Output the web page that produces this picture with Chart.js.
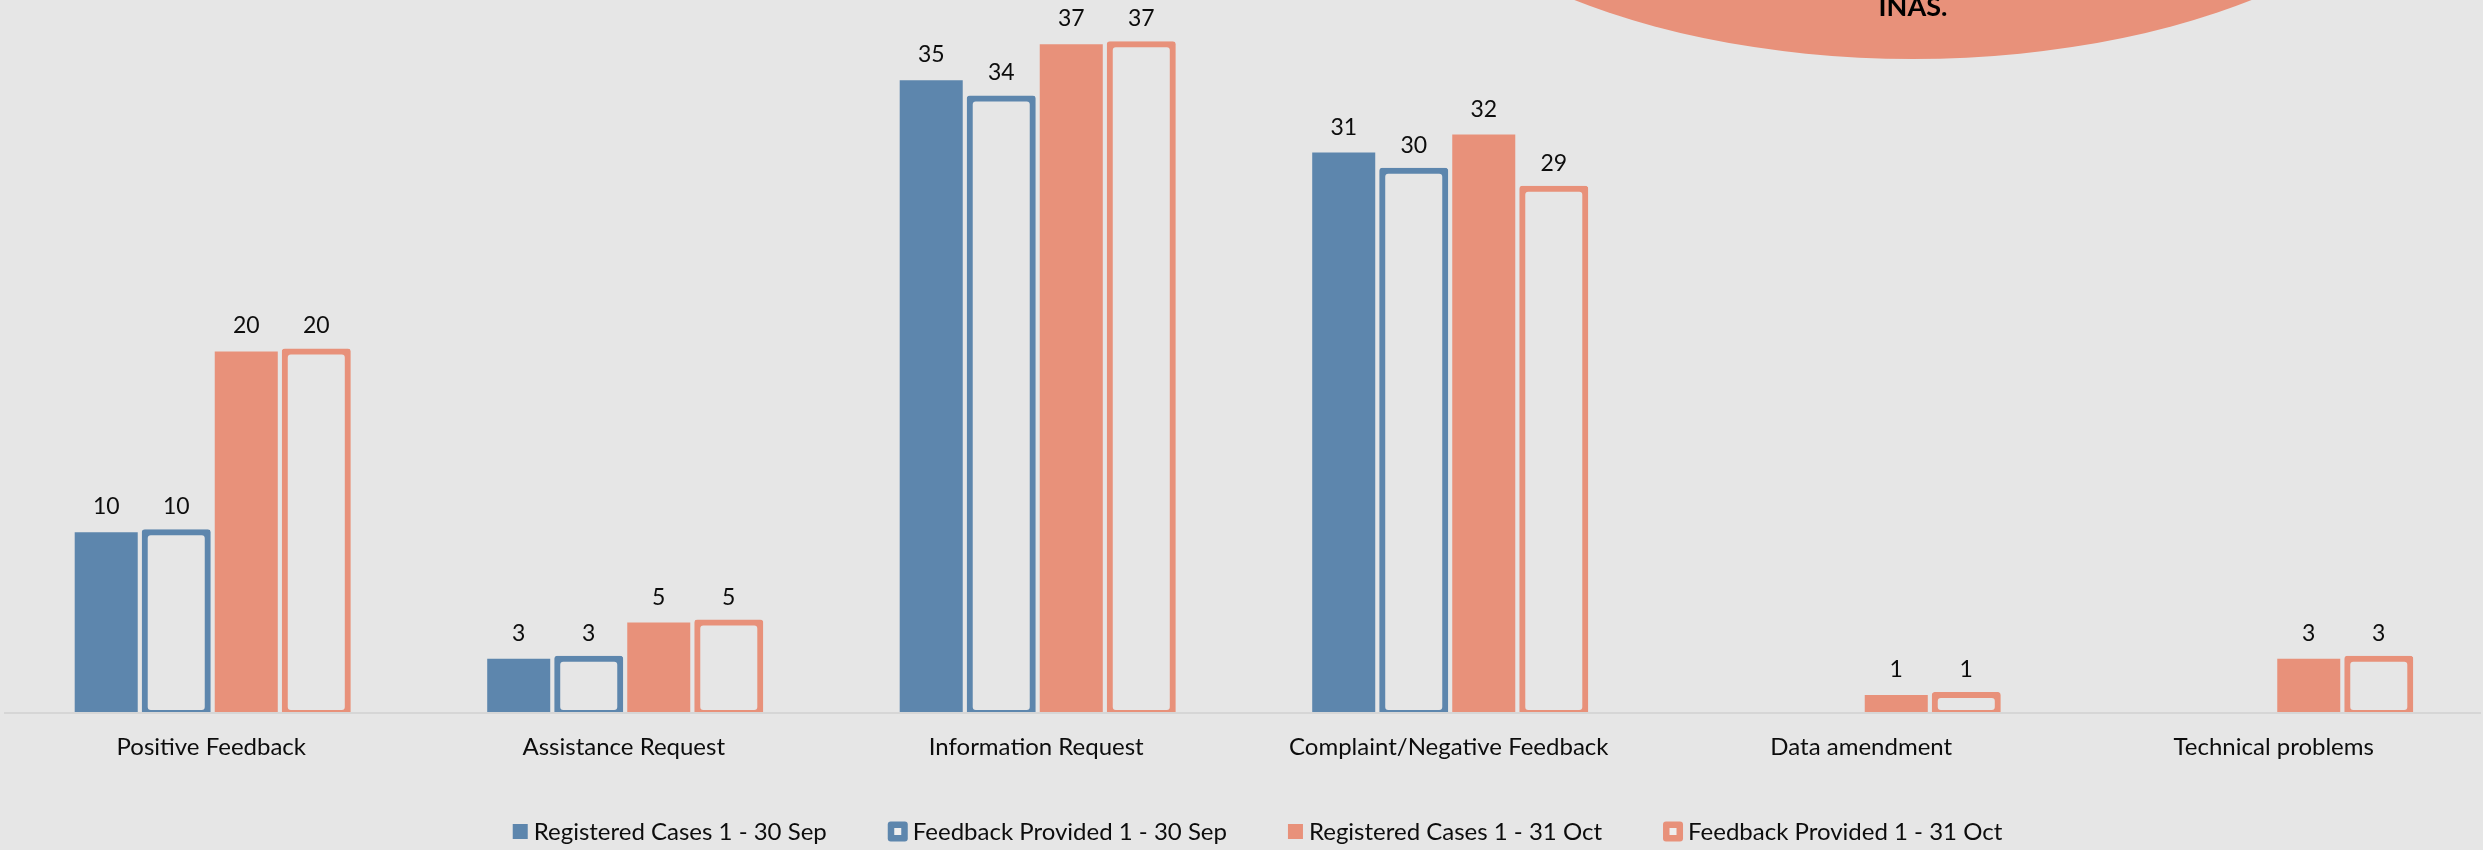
<!DOCTYPE html>
<html>
<head>
<meta charset="utf-8">
<script src="https://cdn.jsdelivr.net/npm/chart.js@4.4.0/dist/chart.umd.min.js"></script>
<style>
  html, body { margin: 0; padding: 0; background: #e6e6e6; }
  canvas { display: block; }
</style>
</head>
<body>
<canvas id="chart" width="2483" height="850"></canvas>
<script>
// Case categories and monthly counts
const categories = ['Positive Feedback', 'Assistance Request', 'Information Request',
  'Complaint/Negative Feedback', 'Data amendment', 'Technical problems'];
const registeredSep = [10, 3, 35, 31, null, null];
const feedbackSep   = [10, 3, 34, 30, null, null];
const registeredOct = [20, 5, 37, 32, 1, 3];
const feedbackOct   = [20, 5, 37, 29, 1, 3];
const seriesLabels = ['Registered Cases 1 - 30 Sep', 'Feedback Provided 1 - 30 Sep',
  'Registered Cases 1 - 31 Oct', 'Feedback Provided 1 - 31 Oct'];
const calloutText = 'INAS.';

const BLUE = '#5d86ad';
const SALMON = '#e8917a';
const BG = '#e6e6e6';
const INK = '#0d0d0d';
const FONT = 'Lato, "Open Sans", sans-serif';

function filledSeries(label, data, color) {
  return {
    label, data,
    backgroundColor: color,
    borderWidth: 0,
    inflateAmount: 0,
    barPercentage: 0.9,
    categoryPercentage: 0.679
  };
}

// Hollow bars: a thin border inflated by 3px each way gives a 6px outline
// centred on the bar edge (including the base, which straddles the axis).
function outlinedSeries(label, data, color) {
  return {
    label, data,
    outlined: true,
    backgroundColor: 'rgba(0,0,0,0)',
    borderColor: color,
    borderWidth: 0.001,
    borderSkipped: false,
    borderRadius: 3,
    inflateAmount: 3,
    barPercentage: 0.9,
    categoryPercentage: 0.679
  };
}

const background = {
  id: 'background',
  beforeDraw(chart) {
    const { ctx, width, height } = chart;
    ctx.save();
    ctx.fillStyle = BG;
    ctx.fillRect(0, 0, width, height);
    ctx.restore();
  }
};

// Value labels above each bar
const valueLabels = {
  id: 'valueLabels',
  afterDatasetsDraw(chart) {
    const ctx = chart.ctx;
    ctx.save();
    ctx.font = '23px ' + FONT;
    ctx.fillStyle = INK;
    ctx.textAlign = 'center';
    ctx.textBaseline = 'alphabetic';
    chart.data.datasets.forEach((ds, i) => {
      chart.getDatasetMeta(i).data.forEach((bar, j) => {
        const v = ds.data[j];
        if (v === null || v === undefined) return;
        ctx.fillText(String(v), bar.x, bar.y - 18);
      });
    });
    ctx.restore();
  }
};

// Salmon callout bubble in the top right corner
const callout = {
  id: 'callout',
  afterDraw(chart) {
    const ctx = chart.ctx;
    ctx.save();
    ctx.beginPath();
    ctx.ellipse(1913, -217, 548, 276, 0, 0, Math.PI * 2);
    ctx.fillStyle = SALMON;
    ctx.fill();
    ctx.fillStyle = '#000';
    ctx.font = 'bold 27px ' + FONT;
    ctx.textAlign = 'center';
    ctx.textBaseline = 'alphabetic';
    ctx.fillText(calloutText, 1913, 16);
    ctx.restore();
  }
};

// Legend row along the bottom
const legendRow = {
  id: 'legendRow',
  afterDraw(chart) {
    const ctx = chart.ctx;
    ctx.save();
    ctx.font = '24px ' + FONT;
    const items = chart.data.datasets.map(ds => {
      const hollow = !!ds.outlined;
      return {
        text: ds.label,
        color: hollow ? ds.borderColor : ds.backgroundColor,
        hollow,
        marker: hollow ? 20 : 15,
        gap: hollow ? 5 : 6,
        textW: ctx.measureText(ds.label).width
      };
    });
    const spacing = 61;
    let total = 0;
    items.forEach((it, k) => {
      total += it.marker + it.gap + it.textW + (k < items.length - 1 ? spacing : 0);
    });
    let x = 1257.5 - total / 2;
    const cy = 831.5;
    const baseline = 840;
    items.forEach(it => {
      if (it.hollow) {
        ctx.beginPath();
        ctx.roundRect(x, cy - 10, 20, 20, 3);
        ctx.fillStyle = it.color;
        ctx.fill();
        ctx.fillStyle = '#eeeeee';
        ctx.fillRect(x + 6.5, cy - 3.5, 7, 7);
      } else {
        ctx.fillStyle = it.color;
        ctx.fillRect(x, cy - 7.5, 15, 15);
      }
      x += it.marker + it.gap;
      ctx.fillStyle = INK;
      ctx.textAlign = 'left';
      ctx.textBaseline = 'alphabetic';
      ctx.fillText(it.text, x, baseline);
      x += it.textW + spacing;
    });
    ctx.restore();
  }
};

new Chart(document.getElementById('chart'), {
  type: 'bar',
  data: {
    labels: categories,
    datasets: [
      filledSeries(seriesLabels[0], registeredSep, BLUE),
      outlinedSeries(seriesLabels[1], feedbackSep, BLUE),
      filledSeries(seriesLabels[2], registeredOct, SALMON),
      outlinedSeries(seriesLabels[3], feedbackOct, SALMON)
    ]
  },
  options: {
    responsive: false,
    animation: false,
    layout: { padding: { top: 8, left: 5, right: 3, bottom: 0 } },
    plugins: {
      legend: { display: false },
      tooltip: { enabled: false }
    },
    scales: {
      x: {
        grid: { display: false, drawTicks: false },
        border: { display: true, color: '#d6d6d6', width: 2, z: 1 },
        ticks: { color: INK, font: { family: FONT, size: 24 }, padding: 20, maxRotation: 0, autoSkip: false },
        afterFit(scale) { scale.height = 137; }
      },
      y: {
        display: false,
        min: 0,
        max: 39
      }
    }
  },
  plugins: [background, valueLabels, callout, legendRow]
});
</script>
</body>
</html>
